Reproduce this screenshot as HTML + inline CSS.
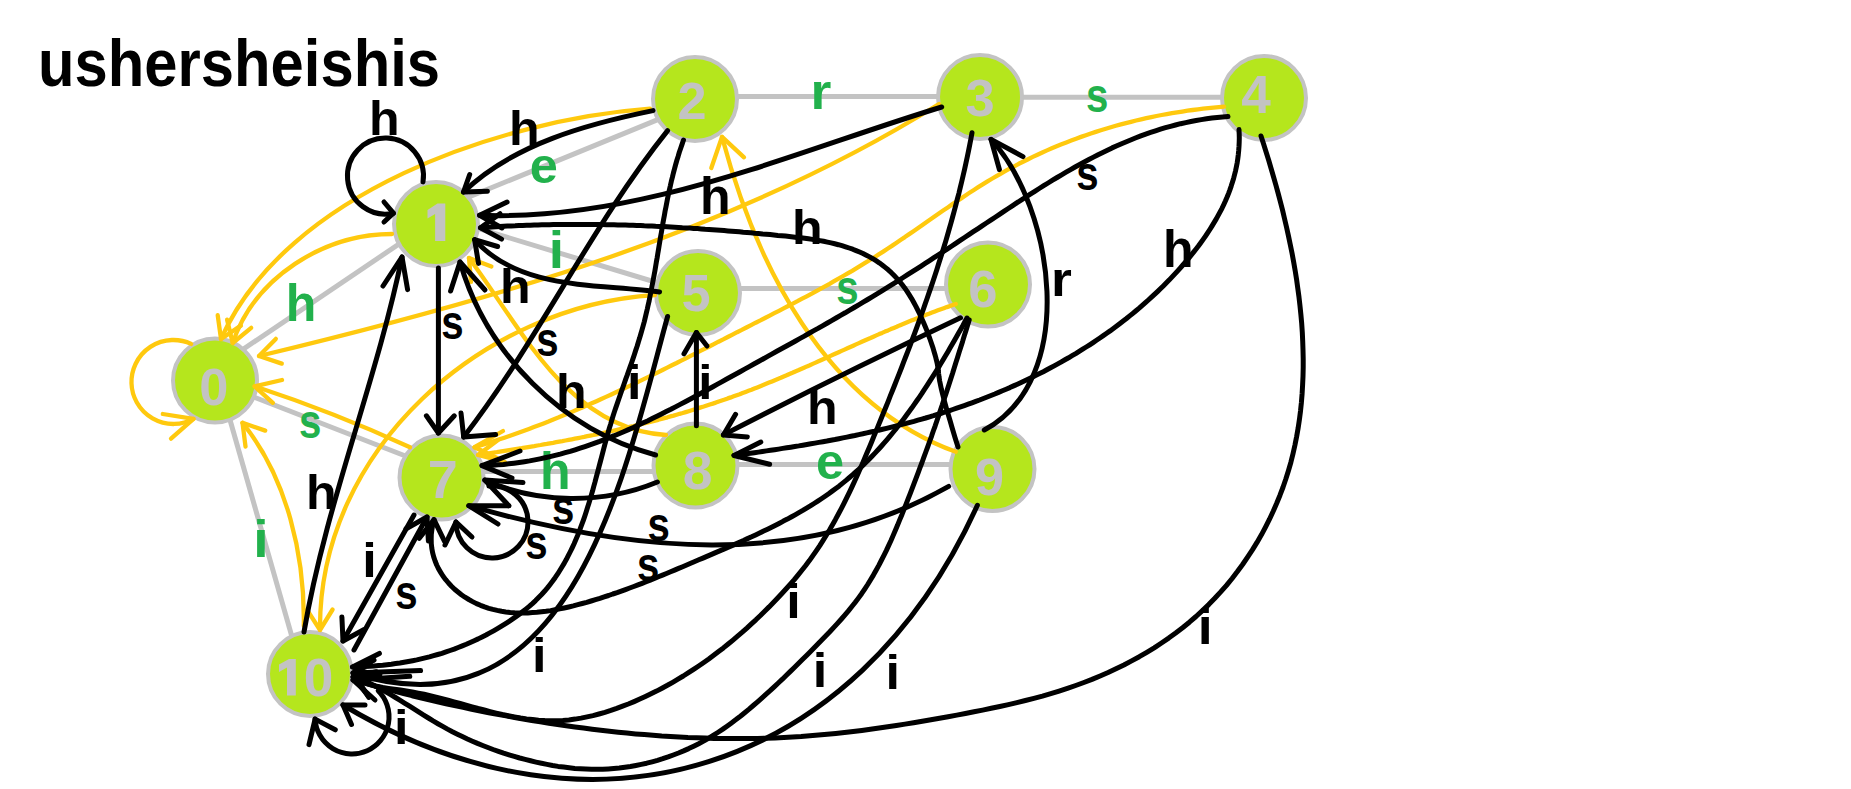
<!DOCTYPE html><html><head><meta charset="utf-8"><style>
html,body{margin:0;padding:0;background:#fff;width:1851px;height:789px;overflow:hidden}
svg{display:block}
text{font-family:"Liberation Sans",sans-serif;font-weight:bold}
</style></head><body><svg width="1851" height="789" viewBox="0 0 1851 789">
<text x="38.0" y="86.0" fill="#000000" font-size="66" text-anchor="start" textLength="402" lengthAdjust="spacingAndGlyphs">ushersheishis</text>
<line x1="215.0" y1="368.3" x2="436.0" y2="219.0" stroke="#c3c3c3" stroke-width="5"/>
<line x1="436.0" y1="210.4" x2="695.0" y2="104.4" stroke="#c3c3c3" stroke-width="5"/>
<line x1="695.0" y1="96.4" x2="980.0" y2="96.4" stroke="#c3c3c3" stroke-width="5"/>
<line x1="980.0" y1="97.2" x2="1264.0" y2="97.2" stroke="#c3c3c3" stroke-width="5"/>
<line x1="436.0" y1="215.7" x2="698.0" y2="295.0" stroke="#c3c3c3" stroke-width="5"/>
<line x1="698.0" y1="288.4" x2="988.0" y2="288.4" stroke="#c3c3c3" stroke-width="5"/>
<line x1="215.0" y1="382.0" x2="441.5" y2="470.0" stroke="#c3c3c3" stroke-width="5"/>
<line x1="441.5" y1="471.5" x2="695.5" y2="471.5" stroke="#c3c3c3" stroke-width="5"/>
<line x1="695.5" y1="464.4" x2="992.5" y2="464.4" stroke="#c3c3c3" stroke-width="5"/>
<line x1="218.6" y1="380.0" x2="302.6" y2="674.0" stroke="#c3c3c3" stroke-width="5"/>
<circle cx="215.0" cy="380.5" r="42" fill="#b5e61d" stroke="#c3c3c3" stroke-width="4"/>
<circle cx="436.0" cy="224.0" r="42" fill="#b5e61d" stroke="#c3c3c3" stroke-width="4"/>
<circle cx="695.0" cy="99.0" r="42" fill="#b5e61d" stroke="#c3c3c3" stroke-width="4"/>
<circle cx="980.0" cy="97.0" r="42" fill="#b5e61d" stroke="#c3c3c3" stroke-width="4"/>
<circle cx="1264.0" cy="98.0" r="42" fill="#b5e61d" stroke="#c3c3c3" stroke-width="4"/>
<circle cx="698.0" cy="293.0" r="42" fill="#b5e61d" stroke="#c3c3c3" stroke-width="4"/>
<circle cx="988.0" cy="284.5" r="42" fill="#b5e61d" stroke="#c3c3c3" stroke-width="4"/>
<circle cx="441.5" cy="477.5" r="42" fill="#b5e61d" stroke="#c3c3c3" stroke-width="4"/>
<circle cx="695.5" cy="465.5" r="42" fill="#b5e61d" stroke="#c3c3c3" stroke-width="4"/>
<circle cx="992.5" cy="469.0" r="42" fill="#b5e61d" stroke="#c3c3c3" stroke-width="4"/>
<circle cx="310.0" cy="674.0" r="42" fill="#b5e61d" stroke="#c3c3c3" stroke-width="4"/>
<path d="M435.1 241 L445.3 241 L445.3 203.6 L437.5 203.6 L427.5 210 L427.5 218.5 L435.1 214 Z" fill="#c3c3c3"/>
<text transform="translate(199.31 405.18) scale(0.5240 0.5240)" fill="#c3c3c3" font-size="100">0</text>
<text transform="translate(677.54 119.00) scale(0.5229 0.5229)" fill="#c3c3c3" font-size="100">2</text>
<text transform="translate(965.40 116.12) scale(0.5247 0.5247)" fill="#c3c3c3" font-size="100">3</text>
<text transform="translate(1241.24 113.00) scale(0.5305 0.5305)" fill="#c3c3c3" font-size="100">4</text>
<text transform="translate(681.53 310.78) scale(0.5229 0.5229)" fill="#c3c3c3" font-size="100">5</text>
<text transform="translate(968.37 306.97) scale(0.5254 0.5254)" fill="#c3c3c3" font-size="100">6</text>
<text transform="translate(427.79 497.50) scale(0.5392 0.5392)" fill="#c3c3c3" font-size="100">7</text>
<text transform="translate(682.64 489.26) scale(0.5353 0.5353)" fill="#c3c3c3" font-size="100">8</text>
<text transform="translate(975.12 494.98) scale(0.5226 0.5226)" fill="#c3c3c3" font-size="100">9</text>
<path d="M287 695.6 L295.8 695.6 L295.8 659.1 L289 659.1 L279 664.4 L279 672 L287 667.5 Z" fill="#c3c3c3"/>
<text transform="translate(303.82 696.17) scale(0.5325 0.5325)" fill="#c3c3c3" font-size="100">0</text>
<path d="M191.2 343.9 A42.0 42.0 0 1 0 193.5 418.9" fill="none" stroke="#ffc90e" stroke-width="4.3" stroke-linecap="round" stroke-linejoin="round"/>
<path d="M162.8 414.0 L193.5 418.9 L171.0 438.6" fill="none" stroke="#ffc90e" stroke-width="4.3" stroke-linecap="round" stroke-linejoin="round"/>
<path d="M392.0 234.0 C323.6 234.2 254.8 277.2 232.7 343.0" fill="none" stroke="#ffc90e" stroke-width="4.3" stroke-linecap="round" stroke-linejoin="round"/>
<path d="M251.2 327.8 L232.7 343.0 L227.1 319.7" fill="none" stroke="#ffc90e" stroke-width="4.3" stroke-linecap="round" stroke-linejoin="round"/>
<path d="M650.0 108.7 C500.3 119.9 286.3 192.5 221.0 339.0" fill="none" stroke="#ffc90e" stroke-width="4.3" stroke-linecap="round" stroke-linejoin="round"/>
<path d="M240.9 325.6 L221.0 339.0 L217.7 315.2" fill="none" stroke="#ffc90e" stroke-width="4.3" stroke-linecap="round" stroke-linejoin="round"/>
<path d="M939.0 104.0 C733.0 232.5 494.5 299.5 259.0 356.0" fill="none" stroke="#ffc90e" stroke-width="4.3" stroke-linecap="round" stroke-linejoin="round"/>
<path d="M281.8 363.6 L259.0 356.0 L275.8 338.9" fill="none" stroke="#ffc90e" stroke-width="4.3" stroke-linecap="round" stroke-linejoin="round"/>
<path d="M655.0 295.0 C482.0 305.9 318.5 449.7 320.0 630.0" fill="none" stroke="#ffc90e" stroke-width="4.3" stroke-linecap="round" stroke-linejoin="round"/>
<path d="M332.6 609.5 L320.0 630.0 L307.1 609.8" fill="none" stroke="#ffc90e" stroke-width="4.3" stroke-linecap="round" stroke-linejoin="round"/>
<path d="M410.0 447.3 C359.1 423.9 307.3 403.6 254.6 386.3" fill="none" stroke="#ffc90e" stroke-width="4.3" stroke-linecap="round" stroke-linejoin="round"/>
<path d="M282.0 380.0 L254.6 386.3 L272.8 402.8" fill="none" stroke="#ffc90e" stroke-width="4.3" stroke-linecap="round" stroke-linejoin="round"/>
<path d="M303.8 626.0 C305.0 556.5 287.4 478.1 242.5 422.8" fill="none" stroke="#ffc90e" stroke-width="4.3" stroke-linecap="round" stroke-linejoin="round"/>
<path d="M245.5 446.6 L242.5 422.8 L265.2 430.6" fill="none" stroke="#ffc90e" stroke-width="4.3" stroke-linecap="round" stroke-linejoin="round"/>
<path d="M1224.0 106.7 L1218.8 107.1 L1213.5 107.6 L1208.3 108.1 L1203.1 108.7 L1197.9 109.3 L1192.7 110.0 L1187.5 110.7 L1182.3 111.5 L1177.1 112.3 L1172.0 113.1 L1166.8 114.1 L1161.7 115.0 L1156.5 116.0 L1151.4 117.1 L1146.3 118.2 L1141.2 119.3 L1136.1 120.5 L1131.0 121.8 L1125.9 123.1 L1120.9 124.4 L1115.8 125.8 L1110.8 127.3 L1105.8 128.8 L1100.8 130.3 L1095.8 131.9 L1090.8 133.5 L1085.9 135.2 L1081.0 136.9 L1076.1 138.7 L1071.2 140.5 L1066.3 142.4 L1061.5 144.3 L1056.6 146.3 L1051.8 148.3 L1047.0 150.4 L1042.3 152.5 L1037.5 154.7 L1032.8 156.9 L1028.1 159.2 L1023.5 161.5 L1018.8 163.8 L1014.2 166.3 L1009.6 168.7 L1005.1 171.2 L1000.5 173.8 L996.0 176.4 L991.5 179.0 L987.1 181.7 L982.7 184.4 L978.2 187.2 L973.9 190.0 L969.5 192.8 L965.1 195.7 L960.8 198.6 L956.4 201.5 L952.1 204.4 L947.8 207.4 L943.5 210.3 L939.2 213.3 L934.9 216.3 L930.6 219.2 L926.3 222.2 L922.1 225.2 L917.8 228.2 L913.5 231.2 L909.2 234.1 L904.9 237.1 L900.5 240.0 L896.2 243.0 L891.9 245.9 L887.5 248.7 L883.2 251.6 L878.8 254.4 L874.4 257.2 L870.0 260.0 L865.5 262.7 L861.1 265.4 L856.6 268.1 L852.2 270.8 L847.7 273.4 L843.1 276.0 L838.6 278.6 L834.1 281.2 L829.6 283.8 L825.0 286.3 L820.4 288.8 L815.9 291.3 L811.3 293.8 L806.7 296.3 L802.1 298.7 L797.5 301.2 L792.8 303.6 L788.2 306.0 L783.6 308.4 L779.0 310.8 L774.3 313.2 L769.7 315.6 L765.0 318.0 L760.4 320.4 L755.7 322.7 L751.1 325.1 L746.4 327.5 L741.8 329.9 L737.1 332.2 L732.5 334.6 L727.8 337.0 L723.2 339.4 L718.5 341.7 L713.9 344.1 L709.2 346.5 L704.5 348.9 L699.9 351.2 L695.2 353.6 L690.6 355.9 L685.9 358.3 L681.2 360.6 L676.6 363.0 L671.9 365.3 L667.2 367.6 L662.5 370.0 L657.9 372.3 L653.2 374.6 L648.5 376.9 L643.8 379.1 L639.1 381.4 L634.4 383.7 L629.7 385.9 L624.9 388.1 L620.2 390.3 L615.5 392.5 L610.8 394.7 L606.0 396.9 L601.3 399.0 L596.5 401.2 L591.7 403.3 L587.0 405.4 L582.2 407.5 L577.4 409.5 L572.6 411.6 L567.8 413.6 L563.0 415.6 L558.2 417.6 L553.3 419.5 L548.5 421.5 L543.6 423.4 L538.8 425.2 L533.9 427.1 L529.0 428.9 L524.1 430.7 L519.2 432.5 L514.3 434.3 L509.4 436.0 L504.4 437.7 L499.5 439.3 L494.5 441.0 L489.5 442.6 L484.5 444.2 L479.5 445.7 L474.5 447.2" fill="none" stroke="#ffc90e" stroke-width="4.3" stroke-linecap="round" stroke-linejoin="round"/>
<path d="M503.0 431.0 L474.5 447.2 L497.0 458.0" fill="none" stroke="#ffc90e" stroke-width="4.3" stroke-linecap="round" stroke-linejoin="round"/>
<path d="M955.8 304.0 L952.8 305.0 L949.8 306.1 L946.8 307.1 L943.8 308.2 L940.9 309.2 L937.9 310.3 L934.9 311.4 L932.0 312.5 L929.0 313.7 L926.0 314.8 L923.1 315.9 L920.1 317.1 L917.2 318.2 L914.3 319.4 L911.3 320.6 L908.4 321.8 L905.5 323.0 L902.5 324.2 L899.6 325.4 L896.7 326.7 L893.8 327.9 L890.9 329.1 L888.0 330.4 L885.0 331.6 L882.1 332.9 L879.2 334.1 L876.3 335.4 L873.4 336.7 L870.5 338.0 L867.6 339.2 L864.7 340.5 L861.8 341.8 L858.9 343.1 L856.0 344.4 L853.2 345.7 L850.3 347.0 L847.4 348.3 L844.5 349.6 L841.6 350.9 L838.7 352.2 L835.8 353.5 L832.9 354.8 L830.0 356.1 L827.1 357.4 L824.2 358.7 L821.4 360.0 L818.5 361.3 L815.6 362.6 L812.7 363.9 L809.8 365.2 L806.9 366.4 L804.0 367.7 L801.1 369.0 L798.2 370.3 L795.3 371.5 L792.4 372.8 L789.5 374.0 L786.6 375.3 L783.7 376.5 L780.8 377.8 L777.8 379.0 L774.9 380.2 L772.0 381.4 L769.1 382.6 L766.1 383.8 L763.2 385.0 L760.3 386.2 L757.3 387.4 L754.4 388.5 L751.5 389.7 L748.5 390.8 L745.6 391.9 L742.6 393.0 L739.7 394.2 L736.7 395.2 L733.7 396.3 L730.8 397.4 L727.8 398.4 L724.8 399.5 L721.8 400.5 L718.8 401.5 L715.8 402.6 L712.8 403.6 L709.8 404.5 L706.8 405.5 L703.8 406.5 L700.8 407.4 L697.8 408.4 L694.8 409.3 L691.8 410.2 L688.7 411.2 L685.7 412.1 L682.7 413.0 L679.6 413.8 L676.6 414.7 L673.6 415.6 L670.5 416.4 L667.5 417.3 L664.4 418.1 L661.4 418.9 L658.3 419.8 L655.2 420.6 L652.2 421.4 L649.1 422.1 L646.0 422.9 L643.0 423.7 L639.9 424.5 L636.8 425.2 L633.7 426.0 L630.7 426.7 L627.6 427.4 L624.5 428.2 L621.4 428.9 L618.3 429.6 L615.2 430.3 L612.1 431.0 L609.0 431.6 L605.9 432.3 L602.8 433.0 L599.7 433.7 L596.6 434.3 L593.5 435.0 L590.4 435.6 L587.3 436.2 L584.2 436.9 L581.1 437.5 L578.0 438.1 L574.9 438.7 L571.8 439.3 L568.7 439.9 L565.5 440.5 L562.4 441.1 L559.3 441.6 L556.2 442.2 L553.1 442.8 L549.9 443.3 L546.8 443.9 L543.7 444.4 L540.6 445.0 L537.4 445.5 L534.3 446.1 L531.2 446.6 L528.1 447.1 L524.9 447.6 L521.8 448.2 L518.7 448.7 L515.5 449.2 L512.4 449.7 L509.3 450.2 L506.2 450.7 L503.0 451.2 L499.9 451.7 L496.8 452.2 L493.6 452.6 L490.5 453.1 L487.4 453.6 L484.3 454.1 L481.1 454.5 L478.0 455.0" fill="none" stroke="#ffc90e" stroke-width="4.3" stroke-linecap="round" stroke-linejoin="round"/>
<path d="M498.0 440.0 L478.0 455.0 L505.0 462.0" fill="none" stroke="#ffc90e" stroke-width="4.3" stroke-linecap="round" stroke-linejoin="round"/>
<path d="M955.8 451.8 C823.9 403.8 755.6 262.5 722.0 136.9" fill="none" stroke="#ffc90e" stroke-width="4.3" stroke-linecap="round" stroke-linejoin="round"/>
<path d="M711.3 168.0 L722.0 136.9 L744.0 157.3" fill="none" stroke="#ffc90e" stroke-width="4.3" stroke-linecap="round" stroke-linejoin="round"/>
<path d="M666.0 435.0 C568.1 429.4 520.9 327.2 469.0 258.0" fill="none" stroke="#ffc90e" stroke-width="4.3" stroke-linecap="round" stroke-linejoin="round"/>
<path d="M471.0 281.9 L469.0 258.0 L491.4 266.6" fill="none" stroke="#ffc90e" stroke-width="4.3" stroke-linecap="round" stroke-linejoin="round"/>
<text transform="translate(368.89 134.70) scale(0.5010 0.4759)" fill="#000000" font-size="100">h</text>
<text transform="translate(508.89 145.00) scale(0.5010 0.4759)" fill="#000000" font-size="100">h</text>
<text transform="translate(699.99 213.70) scale(0.5010 0.5159)" fill="#000000" font-size="100">h</text>
<text transform="translate(791.89 243.70) scale(0.5010 0.4759)" fill="#000000" font-size="100">h</text>
<text transform="translate(499.99 302.80) scale(0.5010 0.4759)" fill="#000000" font-size="100">h</text>
<text transform="translate(441.14 338.82) scale(0.4021 0.4845)" fill="#000000" font-size="100">s</text>
<text transform="translate(536.14 355.92) scale(0.4021 0.4845)" fill="#000000" font-size="100">s</text>
<text transform="translate(555.99 407.80) scale(0.5010 0.4759)" fill="#000000" font-size="100">h</text>
<text transform="translate(627.08 399.00) scale(0.5214 0.4828)" fill="#000000" font-size="100">i</text>
<text transform="translate(698.14 398.70) scale(0.5095 0.4717)" fill="#000000" font-size="100">i</text>
<text transform="translate(806.89 423.70) scale(0.5010 0.4759)" fill="#000000" font-size="100">h</text>
<text transform="translate(1162.99 266.90) scale(0.5010 0.5200)" fill="#000000" font-size="100">h</text>
<text transform="translate(1076.24 189.52) scale(0.4021 0.4845)" fill="#000000" font-size="100">s</text>
<text transform="translate(1050.91 295.80) scale(0.5357 0.4750)" fill="#000000" font-size="100">r</text>
<text transform="translate(305.99 508.70) scale(0.5010 0.4759)" fill="#000000" font-size="100">h</text>
<text transform="translate(362.28 577.00) scale(0.5214 0.4828)" fill="#000000" font-size="100">i</text>
<text transform="translate(395.34 608.82) scale(0.4021 0.4845)" fill="#000000" font-size="100">s</text>
<text transform="translate(551.94 524.02) scale(0.4021 0.4845)" fill="#000000" font-size="100">s</text>
<text transform="translate(525.24 559.02) scale(0.4021 0.4845)" fill="#000000" font-size="100">s</text>
<text transform="translate(647.44 541.02) scale(0.4021 0.4845)" fill="#000000" font-size="100">s</text>
<text transform="translate(636.94 581.22) scale(0.4021 0.4845)" fill="#000000" font-size="100">s</text>
<text transform="translate(531.98 672.00) scale(0.5214 0.4828)" fill="#000000" font-size="100">i</text>
<text transform="translate(786.18 618.00) scale(0.5214 0.4828)" fill="#000000" font-size="100">i</text>
<text transform="translate(812.78 686.80) scale(0.5214 0.4828)" fill="#000000" font-size="100">i</text>
<text transform="translate(885.48 688.50) scale(0.5214 0.4828)" fill="#000000" font-size="100">i</text>
<text transform="translate(1197.87 643.70) scale(0.5363 0.4966)" fill="#000000" font-size="100">i</text>
<text transform="translate(393.98 744.00) scale(0.5214 0.4828)" fill="#000000" font-size="100">i</text>
<text transform="translate(285.79 320.60) scale(0.5010 0.5159)" fill="#22b14c" font-size="100">h</text>
<text transform="translate(529.73 183.21) scale(0.5052 0.4927)" fill="#22b14c" font-size="100">e</text>
<text transform="translate(810.61 109.00) scale(0.5357 0.5009)" fill="#22b14c" font-size="100">r</text>
<text transform="translate(1085.94 111.52) scale(0.4021 0.4845)" fill="#22b14c" font-size="100">s</text>
<text transform="translate(548.87 268.40) scale(0.5512 0.5103)" fill="#22b14c" font-size="100">i</text>
<text transform="translate(836.14 304.12) scale(0.4021 0.4845)" fill="#22b14c" font-size="100">s</text>
<text transform="translate(298.94 437.92) scale(0.4021 0.4845)" fill="#22b14c" font-size="100">s</text>
<text transform="translate(539.89 488.70) scale(0.5010 0.5200)" fill="#22b14c" font-size="100">h</text>
<text transform="translate(816.03 479.11) scale(0.5052 0.4927)" fill="#22b14c" font-size="100">e</text>
<text transform="translate(253.15 556.90) scale(0.5527 0.5117)" fill="#22b14c" font-size="100">i</text>
<path d="M423.0 181.9 A38.0 38.0 0 1 0 393.4 213.2" fill="none" stroke="#000000" stroke-width="5" stroke-linecap="round" stroke-linejoin="round"/>
<path d="M384.0 202.0 L393.4 213.2 L384.0 222.0" fill="none" stroke="#000000" stroke-width="5" stroke-linecap="round" stroke-linejoin="round"/>
<path d="M438.4 268.0 L438.4 433.0" fill="none" stroke="#000000" stroke-width="5" stroke-linecap="round" stroke-linejoin="round"/>
<path d="M426.4 415.8 L438.4 433.0 L454.3 415.8" fill="none" stroke="#000000" stroke-width="5" stroke-linecap="round" stroke-linejoin="round"/>
<path d="M653.0 110.6 C587.1 124.0 513.6 144.0 463.5 192.0" fill="none" stroke="#000000" stroke-width="5" stroke-linecap="round" stroke-linejoin="round"/>
<path d="M469.7 174.5 L463.5 192.0 L487.4 191.2" fill="none" stroke="#000000" stroke-width="5" stroke-linecap="round" stroke-linejoin="round"/>
<path d="M941.7 107.0 C791.9 152.6 640.0 221.6 479.6 215.3" fill="none" stroke="#000000" stroke-width="5" stroke-linecap="round" stroke-linejoin="round"/>
<path d="M507.1 202.0 L479.6 215.3 L502.0 228.0" fill="none" stroke="#000000" stroke-width="5" stroke-linecap="round" stroke-linejoin="round"/>
<path d="M958.0 447.0 L955.0 437.4 L952.4 428.7 L950.1 420.8 L948.0 413.8 L946.2 407.6 L944.7 402.1 L943.4 397.2 L942.3 392.9 L941.4 389.2 L940.7 385.9 L940.1 383.1 L939.6 380.7 L939.3 378.5 L939.0 376.7 L938.8 375.0 L938.6 373.5 L938.5 372.1 L938.3 370.7 L938.2 369.3 L938.0 367.9 L937.7 366.3 L937.4 364.5 L937.0 362.5 L936.4 360.2 L935.8 357.6 L935.0 354.8 L934.1 351.8 L933.2 348.6 L932.1 345.2 L930.9 341.7 L929.6 338.0 L928.2 334.3 L926.8 330.4 L925.2 326.5 L923.5 322.5 L921.7 318.4 L919.9 314.4 L917.9 310.4 L915.9 306.4 L913.8 302.5 L911.6 298.6 L909.3 294.9 L906.9 291.2 L904.5 287.7 L901.9 284.3 L899.3 281.1 L896.6 278.1 L893.9 275.2 L891.1 272.4 L888.2 269.8 L885.2 267.4 L882.2 265.0 L879.2 262.8 L876.0 260.7 L872.8 258.7 L869.6 256.9 L866.3 255.2 L863.0 253.5 L859.6 252.0 L856.1 250.6 L852.7 249.2 L849.2 248.0 L845.6 246.8 L842.0 245.7 L838.4 244.7 L834.7 243.8 L831.1 242.9 L827.4 242.1 L823.6 241.3 L819.9 240.6 L816.1 240.0 L812.3 239.4 L808.5 238.8 L804.7 238.3 L800.8 237.8 L797.0 237.4 L793.2 236.9 L789.3 236.5 L785.5 236.1 L781.6 235.7 L777.8 235.4 L773.9 235.0 L770.1 234.6 L766.2 234.2 L762.4 233.9 L758.5 233.5 L754.7 233.2 L750.9 232.8 L747.1 232.5 L743.2 232.2 L739.4 231.8 L735.6 231.5 L731.8 231.2 L727.9 230.9 L724.1 230.6 L720.3 230.3 L716.5 230.0 L712.7 229.7 L708.9 229.4 L705.1 229.2 L701.3 228.9 L697.5 228.6 L693.7 228.4 L689.9 228.1 L686.1 227.9 L682.3 227.7 L678.5 227.4 L674.7 227.2 L670.9 227.0 L667.1 226.8 L663.3 226.6 L659.5 226.4 L655.7 226.3 L651.9 226.1 L648.1 225.9 L644.3 225.8 L640.6 225.6 L636.8 225.5 L633.0 225.3 L629.2 225.2 L625.4 225.1 L621.6 225.0 L617.8 224.9 L614.0 224.8 L610.2 224.7 L606.4 224.7 L602.6 224.6 L598.9 224.5 L595.1 224.5 L591.3 224.5 L587.5 224.4 L583.7 224.4 L579.9 224.4 L576.1 224.4 L572.3 224.4 L568.5 224.4 L564.7 224.5 L560.9 224.5 L557.1 224.5 L553.3 224.6 L549.4 224.7 L545.6 224.8 L541.8 224.8 L538.0 224.9 L534.2 225.0 L530.4 225.2 L526.6 225.3 L522.7 225.4 L518.9 225.6 L515.1 225.8 L511.2 225.9 L507.4 226.1 L503.6 226.3 L499.7 226.5 L495.9 226.7 L492.1 226.9 L488.2 227.2 L484.4 227.4 L480.5 227.7" fill="none" stroke="#000000" stroke-width="5" stroke-linecap="round" stroke-linejoin="round"/>
<path d="M501.6 239.1 L480.5 227.7 L500.0 213.7" fill="none" stroke="#000000" stroke-width="5" stroke-linecap="round" stroke-linejoin="round"/>
<path d="M659.6 292.0 C599.6 283.2 520.1 291.3 474.6 239.7" fill="none" stroke="#000000" stroke-width="5" stroke-linecap="round" stroke-linejoin="round"/>
<path d="M478.5 263.4 L474.6 239.7 L497.6 246.5" fill="none" stroke="#000000" stroke-width="5" stroke-linecap="round" stroke-linejoin="round"/>
<path d="M655.6 455.0 C562.2 430.3 486.4 353.6 460.0 262.0" fill="none" stroke="#000000" stroke-width="5" stroke-linecap="round" stroke-linejoin="round"/>
<path d="M450.6 291.0 L460.0 262.0 L485.0 290.0" fill="none" stroke="#000000" stroke-width="5" stroke-linecap="round" stroke-linejoin="round"/>
<path d="M304.0 632.0 C325.8 504.3 375.9 383.2 402.0 257.0" fill="none" stroke="#000000" stroke-width="5" stroke-linecap="round" stroke-linejoin="round"/>
<path d="M383.0 286.0 L402.0 257.0 L407.6 289.6" fill="none" stroke="#000000" stroke-width="5" stroke-linecap="round" stroke-linejoin="round"/>
<path d="M667.6 130.6 C590.8 226.5 539.2 339.3 463.7 437.0" fill="none" stroke="#000000" stroke-width="5" stroke-linecap="round" stroke-linejoin="round"/>
<path d="M461.0 413.0 L463.7 437.0 L495.6 434.4" fill="none" stroke="#000000" stroke-width="5" stroke-linecap="round" stroke-linejoin="round"/>
<path d="M683.5 140.0 L682.1 144.1 L680.7 148.2 L679.3 152.3 L678.1 156.4 L676.8 160.5 L675.6 164.7 L674.5 168.8 L673.4 173.0 L672.4 177.2 L671.3 181.4 L670.4 185.6 L669.4 189.8 L668.5 194.0 L667.6 198.3 L666.8 202.5 L666.0 206.7 L665.1 211.0 L664.4 215.3 L663.6 219.5 L662.8 223.8 L662.1 228.1 L661.4 232.3 L660.6 236.6 L659.9 240.9 L659.2 245.2 L658.5 249.5 L657.8 253.7 L657.1 258.0 L656.3 262.3 L655.6 266.6 L654.9 270.8 L654.1 275.1 L653.3 279.4 L652.5 283.6 L651.7 287.9 L650.9 292.1 L650.0 296.3 L649.2 300.6 L648.2 304.8 L647.3 309.0 L646.3 313.2 L645.3 317.4 L644.3 321.6 L643.2 325.7 L642.0 329.9 L640.8 334.0 L639.6 338.1 L638.3 342.2 L637.1 346.3 L635.7 350.4 L634.4 354.5 L633.0 358.6 L631.6 362.7 L630.2 366.7 L628.7 370.8 L627.3 374.9 L625.8 378.9 L624.4 383.0 L623.0 387.0 L621.5 391.1 L620.1 395.2 L618.7 399.3 L617.3 403.3 L615.9 407.4 L614.5 411.5 L613.2 415.6 L611.9 419.8 L610.7 423.9 L609.4 428.0 L608.2 432.2 L607.1 436.4 L605.9 440.5 L604.8 444.7 L603.7 448.9 L602.6 453.1 L601.5 457.3 L600.4 461.5 L599.3 465.7 L598.2 469.9 L597.1 474.0 L596.0 478.2 L594.9 482.4 L593.7 486.6 L592.6 490.8 L591.4 494.9 L590.2 499.1 L588.9 503.2 L587.6 507.3 L586.3 511.4 L585.0 515.5 L583.6 519.6 L582.1 523.7 L580.6 527.7 L579.1 531.8 L577.5 535.8 L575.8 539.7 L574.1 543.7 L572.3 547.6 L570.4 551.5 L568.4 555.4 L566.4 559.3 L564.3 563.1 L562.1 566.8 L559.8 570.5 L557.5 574.2 L555.1 577.7 L552.5 581.3 L549.9 584.7 L547.2 588.1 L544.5 591.3 L541.6 594.5 L538.6 597.6 L535.6 600.6 L532.4 603.6 L529.2 606.4 L525.9 609.1 L522.5 611.8 L519.1 614.4 L515.6 616.9 L512.0 619.4 L508.4 621.8 L504.8 624.1 L501.1 626.4 L497.4 628.6 L493.6 630.8 L489.8 632.9 L486.0 635.0 L482.1 636.9 L478.2 638.9 L474.2 640.7 L470.3 642.5 L466.3 644.3 L462.3 645.9 L458.2 647.5 L454.2 649.1 L450.1 650.5 L446.0 651.9 L441.9 653.3 L437.7 654.5 L433.6 655.7 L429.4 656.9 L425.2 657.9 L421.0 658.9 L416.8 659.9 L412.6 660.7 L408.4 661.5 L404.1 662.3 L399.9 663.0 L395.6 663.6 L391.3 664.2 L387.0 664.7 L382.7 665.2 L378.4 665.6 L374.1 666.0 L369.8 666.3 L365.5 666.5 L361.2 666.7 L356.8 666.9 L352.5 667.0" fill="none" stroke="#000000" stroke-width="5" stroke-linecap="round" stroke-linejoin="round"/>
<path d="M379.4 653.4 L352.5 667.0 L376.0 676.0" fill="none" stroke="#000000" stroke-width="5" stroke-linecap="round" stroke-linejoin="round"/>
<path d="M667.6 316.5 C626.5 464.5 573.8 744.7 353.0 673.0" fill="none" stroke="#000000" stroke-width="5" stroke-linecap="round" stroke-linejoin="round"/>
<path d="M374.0 660.0 L353.0 673.0 L420.6 670.6" fill="none" stroke="#000000" stroke-width="5" stroke-linecap="round" stroke-linejoin="round"/>
<path d="M696.4 425.7 L696.4 332.5" fill="none" stroke="#000000" stroke-width="5" stroke-linecap="round" stroke-linejoin="round"/>
<path d="M684.0 353.8 L696.4 332.5 L707.0 346.0" fill="none" stroke="#000000" stroke-width="5" stroke-linecap="round" stroke-linejoin="round"/>
<path d="M972.0 132.8 L970.9 138.9 L969.7 145.0 L968.5 151.1 L967.2 157.2 L965.9 163.2 L964.6 169.3 L963.2 175.3 L961.8 181.3 L960.3 187.3 L958.9 193.3 L957.3 199.2 L955.8 205.2 L954.2 211.1 L952.6 217.0 L951.0 222.9 L949.3 228.8 L947.6 234.7 L945.9 240.6 L944.1 246.4 L942.3 252.3 L940.5 258.1 L938.6 263.9 L936.8 269.7 L934.9 275.5 L933.0 281.3 L931.0 287.1 L929.0 292.9 L927.0 298.7 L925.0 304.4 L923.0 310.2 L920.9 316.0 L918.9 321.7 L916.8 327.4 L914.7 333.2 L912.5 338.9 L910.4 344.6 L908.2 350.3 L906.0 356.0 L903.8 361.7 L901.6 367.5 L899.4 373.2 L897.1 378.9 L894.9 384.5 L892.6 390.2 L890.3 395.9 L888.1 401.6 L885.8 407.3 L883.4 413.0 L881.1 418.7 L878.8 424.4 L876.5 430.1 L874.1 435.8 L871.8 441.5 L869.4 447.2 L867.0 452.8 L864.6 458.5 L862.2 464.2 L859.7 469.8 L857.2 475.4 L854.7 481.0 L852.1 486.6 L849.5 492.1 L846.8 497.7 L844.1 503.2 L841.3 508.6 L838.4 514.0 L835.5 519.4 L832.5 524.7 L829.5 530.0 L826.3 535.3 L823.1 540.4 L819.8 545.6 L816.4 550.6 L812.9 555.7 L809.4 560.6 L805.7 565.5 L801.9 570.3 L798.0 575.1 L794.1 579.8 L790.1 584.4 L786.0 589.0 L781.9 593.5 L777.7 598.0 L773.4 602.5 L769.1 606.9 L764.7 611.2 L760.4 615.5 L755.9 619.8 L751.4 623.9 L746.9 628.1 L742.3 632.2 L737.6 636.2 L733.0 640.1 L728.2 644.0 L723.4 647.9 L718.6 651.6 L713.7 655.3 L708.8 659.0 L703.8 662.5 L698.7 666.0 L693.6 669.4 L688.5 672.7 L683.3 676.0 L678.0 679.2 L672.7 682.3 L667.4 685.3 L662.0 688.2 L656.5 691.1 L651.0 693.8 L645.4 696.5 L639.8 699.1 L634.1 701.6 L628.3 704.0 L622.6 706.2 L616.7 708.4 L610.9 710.4 L604.9 712.3 L599.0 714.0 L593.0 715.6 L587.0 716.9 L581.0 718.1 L575.0 719.1 L568.9 719.9 L562.9 720.4 L556.8 720.7 L550.8 720.7 L544.7 720.6 L538.6 720.2 L532.6 719.6 L526.5 718.9 L520.5 718.0 L514.4 716.9 L508.3 715.7 L502.3 714.5 L496.2 713.1 L490.2 711.6 L484.2 710.0 L478.1 708.5 L472.1 706.8 L466.1 705.2 L460.1 703.5 L454.0 701.9 L448.0 700.2 L442.1 698.7 L436.1 697.1 L430.1 695.7 L424.1 694.3 L418.2 693.1 L412.3 691.9 L406.3 690.9 L400.4 690.0 L394.5 689.2 L388.6 688.4 L382.7 687.5 L376.8 686.3 L370.9 684.8 L364.9 682.8 L359.0 680.2 L353.0 677.0" fill="none" stroke="#000000" stroke-width="5" stroke-linecap="round" stroke-linejoin="round"/>
<path d="M368.0 695.8 L353.0 677.0 L376.4 671.8" fill="none" stroke="#000000" stroke-width="5" stroke-linecap="round" stroke-linejoin="round"/>
<path d="M1261.0 136.0 L1263.6 144.0 L1266.1 152.1 L1268.7 160.3 L1271.1 168.5 L1273.5 176.8 L1275.9 185.1 L1278.2 193.5 L1280.4 201.9 L1282.6 210.4 L1284.6 219.0 L1286.6 227.5 L1288.5 236.1 L1290.3 244.8 L1292.1 253.5 L1293.7 262.2 L1295.2 270.9 L1296.6 279.6 L1297.8 288.4 L1299.0 297.2 L1300.0 306.0 L1300.9 314.8 L1301.7 323.6 L1302.3 332.4 L1302.7 341.2 L1303.0 350.0 L1303.2 358.8 L1303.2 367.5 L1303.0 376.3 L1302.6 385.0 L1302.1 393.7 L1301.4 402.4 L1300.5 411.1 L1299.4 419.7 L1298.1 428.3 L1296.6 436.8 L1294.9 445.3 L1293.0 453.7 L1290.9 462.2 L1288.5 470.5 L1285.9 478.8 L1283.1 487.0 L1280.0 495.2 L1276.7 503.3 L1273.2 511.3 L1269.5 519.2 L1265.5 527.1 L1261.4 534.8 L1257.0 542.4 L1252.4 549.9 L1247.6 557.2 L1242.6 564.5 L1237.4 571.6 L1232.1 578.5 L1226.5 585.3 L1220.7 591.9 L1214.8 598.3 L1208.7 604.6 L1202.4 610.6 L1196.0 616.5 L1189.4 622.2 L1182.6 627.7 L1175.7 633.0 L1168.7 638.1 L1161.5 643.0 L1154.2 647.8 L1146.8 652.3 L1139.3 656.7 L1131.6 660.9 L1123.9 665.0 L1116.0 668.8 L1108.1 672.5 L1100.1 676.0 L1092.0 679.4 L1083.9 682.5 L1075.7 685.5 L1067.4 688.4 L1059.1 691.1 L1050.8 693.6 L1042.4 696.1 L1033.9 698.4 L1025.4 700.5 L1016.9 702.6 L1008.4 704.6 L999.8 706.5 L991.2 708.3 L982.6 710.1 L974.0 711.8 L965.4 713.5 L956.8 715.1 L948.1 716.7 L939.5 718.2 L930.9 719.7 L922.3 721.2 L913.6 722.7 L905.0 724.1 L896.4 725.5 L887.7 726.8 L879.1 728.0 L870.4 729.2 L861.8 730.4 L853.2 731.5 L844.5 732.5 L835.8 733.4 L827.2 734.3 L818.5 735.1 L809.8 735.8 L801.1 736.5 L792.5 737.0 L783.8 737.5 L775.1 737.9 L766.3 738.2 L757.6 738.4 L748.9 738.6 L740.2 738.6 L731.5 738.6 L722.8 738.5 L714.0 738.4 L705.3 738.1 L696.6 737.8 L687.9 737.5 L679.2 737.0 L670.4 736.5 L661.7 736.0 L653.0 735.3 L644.3 734.6 L635.6 733.9 L626.9 733.1 L618.2 732.2 L609.5 731.3 L600.8 730.3 L592.2 729.2 L583.5 728.1 L574.9 727.0 L566.2 725.8 L557.6 724.5 L548.9 723.2 L540.3 721.9 L531.7 720.5 L523.1 719.0 L514.5 717.5 L505.9 715.9 L497.3 714.3 L488.7 712.7 L480.2 711.0 L471.6 709.2 L463.1 707.4 L454.5 705.6 L446.0 703.7 L437.5 701.7 L429.0 699.8 L420.5 697.7 L412.0 695.7 L403.6 693.5 L395.1 691.4 L386.7 689.2 L378.2 687.0 L369.8 684.7 L361.4 682.4 L353.0 680.0" fill="none" stroke="#000000" stroke-width="5" stroke-linecap="round" stroke-linejoin="round"/>
<path d="M409.8 676.3 L353.0 680.0 L375.0 700.0" fill="none" stroke="#000000" stroke-width="5" stroke-linecap="round" stroke-linejoin="round"/>
<path d="M969.2 320.0 L967.5 325.4 L965.9 330.7 L964.2 336.0 L962.6 341.4 L960.9 346.7 L959.2 352.0 L957.6 357.3 L955.9 362.6 L954.2 367.9 L952.6 373.2 L950.9 378.4 L949.2 383.7 L947.5 389.0 L945.8 394.3 L944.0 399.5 L942.3 404.8 L940.5 410.0 L938.8 415.3 L937.0 420.5 L935.2 425.8 L933.3 431.0 L931.5 436.3 L929.6 441.5 L927.7 446.8 L925.8 452.0 L923.9 457.2 L922.0 462.5 L920.0 467.7 L918.1 472.9 L916.1 478.2 L914.1 483.4 L912.1 488.6 L910.1 493.8 L908.0 499.1 L906.0 504.3 L903.9 509.5 L901.9 514.7 L899.7 519.9 L897.6 525.1 L895.4 530.2 L893.2 535.4 L891.0 540.5 L888.6 545.6 L886.3 550.6 L883.8 555.6 L881.3 560.5 L878.8 565.4 L876.1 570.3 L873.4 575.1 L870.6 579.8 L867.7 584.5 L864.7 589.1 L861.6 593.7 L858.4 598.1 L855.1 602.5 L851.7 606.8 L848.2 611.1 L844.6 615.3 L841.0 619.5 L837.3 623.6 L833.6 627.7 L829.8 631.8 L825.9 635.8 L822.0 639.8 L818.1 643.8 L814.2 647.8 L810.3 651.7 L806.3 655.7 L802.4 659.6 L798.4 663.6 L794.4 667.5 L790.4 671.4 L786.4 675.3 L782.4 679.2 L778.3 683.0 L774.2 686.9 L770.1 690.7 L765.9 694.4 L761.8 698.1 L757.6 701.8 L753.3 705.5 L749.1 709.1 L744.7 712.7 L740.4 716.2 L736.0 719.6 L731.5 722.9 L727.0 726.2 L722.5 729.4 L717.8 732.5 L713.2 735.4 L708.4 738.3 L703.6 741.1 L698.7 743.7 L693.7 746.2 L688.7 748.6 L683.6 750.9 L678.5 753.0 L673.3 755.0 L668.1 756.9 L662.8 758.7 L657.5 760.3 L652.1 761.8 L646.7 763.2 L641.3 764.4 L635.9 765.5 L630.4 766.5 L624.9 767.3 L619.3 768.0 L613.8 768.5 L608.2 768.9 L602.7 769.2 L597.1 769.3 L591.5 769.3 L585.9 769.1 L580.4 768.8 L574.8 768.4 L569.2 767.8 L563.7 767.1 L558.1 766.4 L552.6 765.5 L547.0 764.4 L541.5 763.3 L536.0 762.1 L530.6 760.8 L525.1 759.4 L519.7 758.0 L514.3 756.4 L509.0 754.8 L503.6 753.1 L498.4 751.3 L493.1 749.5 L487.9 747.5 L482.7 745.5 L477.5 743.4 L472.4 741.2 L467.4 739.0 L462.3 736.6 L457.4 734.2 L452.4 731.7 L447.5 729.1 L442.7 726.4 L437.9 723.7 L433.1 720.9 L428.4 718.0 L423.7 715.1 L419.0 712.1 L414.3 709.2 L409.6 706.2 L404.9 703.3 L400.2 700.4 L395.5 697.5 L390.7 694.6 L385.9 691.8 L381.1 689.1 L376.2 686.5 L371.2 683.9 L366.2 681.5 L361.2 679.2 L356.0 677.0" fill="none" stroke="#000000" stroke-width="5" stroke-linecap="round" stroke-linejoin="round"/>
<path d="M368.8 697.3 L356.0 677.0 L379.9 674.4" fill="none" stroke="#000000" stroke-width="5" stroke-linecap="round" stroke-linejoin="round"/>
<path d="M977.4 505.3 C856.1 772.4 593.3 855.3 343.0 705.0" fill="none" stroke="#000000" stroke-width="5" stroke-linecap="round" stroke-linejoin="round"/>
<path d="M351.5 724.4 L343.0 705.0 L365.0 705.0" fill="none" stroke="#000000" stroke-width="5" stroke-linecap="round" stroke-linejoin="round"/>
<path d="M414.0 515.0 L343.0 641.0" fill="none" stroke="#000000" stroke-width="5" stroke-linecap="round" stroke-linejoin="round"/>
<path d="M364.1 629.5 L343.0 641.0 L341.9 617.0" fill="none" stroke="#000000" stroke-width="5" stroke-linecap="round" stroke-linejoin="round"/>
<path d="M354.0 650.0 L427.0 517.0" fill="none" stroke="#000000" stroke-width="5" stroke-linecap="round" stroke-linejoin="round"/>
<path d="M406.1 528.7 L427.0 517.0 L428.4 541.0" fill="none" stroke="#000000" stroke-width="5" stroke-linecap="round" stroke-linejoin="round"/>
<path d="M378.2 690.8 A37.0 37.0 0 1 1 315.1 719.1" fill="none" stroke="#000000" stroke-width="5" stroke-linecap="round" stroke-linejoin="round"/>
<path d="M309.0 744.6 L315.1 719.1 L335.3 729.8" fill="none" stroke="#000000" stroke-width="5" stroke-linecap="round" stroke-linejoin="round"/>
<path d="M488.9 486.1 A36.0 36.0 0 1 1 456.0 522.0" fill="none" stroke="#000000" stroke-width="5" stroke-linecap="round" stroke-linejoin="round"/>
<path d="M472.0 537.0 L456.0 522.0 L445.0 545.0" fill="none" stroke="#000000" stroke-width="5" stroke-linecap="round" stroke-linejoin="round"/>
<path d="M657.4 482.0 C603.4 504.3 537.9 504.1 484.8 480.0" fill="none" stroke="#000000" stroke-width="5" stroke-linecap="round" stroke-linejoin="round"/>
<path d="M523.0 482.6 L484.8 480.0 L508.8 505.7" fill="none" stroke="#000000" stroke-width="5" stroke-linecap="round" stroke-linejoin="round"/>
<path d="M948.7 486.4 C799.1 571.7 625.6 550.7 468.8 505.7" fill="none" stroke="#000000" stroke-width="5" stroke-linecap="round" stroke-linejoin="round"/>
<path d="M508.8 505.7 L468.8 505.7 L498.0 524.0" fill="none" stroke="#000000" stroke-width="5" stroke-linecap="round" stroke-linejoin="round"/>
<path d="M967.0 318.0 L964.9 321.7 L962.9 325.5 L960.8 329.2 L958.6 333.0 L956.5 336.7 L954.4 340.5 L952.2 344.3 L950.0 348.1 L947.8 351.9 L945.5 355.7 L943.3 359.5 L941.0 363.3 L938.7 367.1 L936.4 370.8 L934.0 374.6 L931.6 378.4 L929.2 382.2 L926.8 385.9 L924.3 389.6 L921.9 393.4 L919.4 397.1 L916.8 400.8 L914.3 404.4 L911.7 408.1 L909.0 411.7 L906.4 415.3 L903.7 418.9 L901.0 422.5 L898.2 426.0 L895.5 429.5 L892.6 433.0 L889.8 436.4 L886.9 439.8 L884.0 443.2 L881.1 446.5 L878.1 449.8 L875.0 453.1 L872.0 456.3 L868.9 459.5 L865.8 462.6 L862.6 465.7 L859.4 468.7 L856.1 471.7 L852.8 474.7 L849.5 477.5 L846.1 480.4 L842.7 483.1 L839.3 485.9 L835.8 488.5 L832.2 491.1 L828.7 493.7 L825.1 496.2 L821.4 498.7 L817.8 501.1 L814.1 503.5 L810.3 505.9 L806.6 508.1 L802.8 510.4 L798.9 512.6 L795.1 514.8 L791.2 517.0 L787.4 519.1 L783.4 521.1 L779.5 523.2 L775.6 525.2 L771.6 527.2 L767.6 529.2 L763.6 531.1 L759.6 533.0 L755.6 534.9 L751.6 536.8 L747.5 538.6 L743.5 540.5 L739.4 542.3 L735.4 544.1 L731.3 545.9 L727.2 547.6 L723.2 549.4 L719.1 551.1 L715.0 552.9 L711.0 554.6 L706.9 556.4 L702.9 558.1 L698.8 559.8 L694.8 561.5 L690.7 563.3 L686.7 565.0 L682.7 566.7 L678.6 568.4 L674.6 570.1 L670.6 571.8 L666.5 573.5 L662.5 575.1 L658.4 576.8 L654.4 578.5 L650.3 580.1 L646.2 581.7 L642.1 583.3 L638.0 584.9 L633.8 586.5 L629.7 588.0 L625.5 589.6 L621.3 591.1 L617.1 592.6 L612.8 594.0 L608.6 595.5 L604.2 596.9 L599.9 598.3 L595.5 599.6 L591.1 601.0 L586.7 602.3 L582.2 603.5 L577.8 604.7 L573.3 605.9 L568.7 607.0 L564.2 608.0 L559.7 608.9 L555.1 609.8 L550.6 610.6 L546.0 611.3 L541.5 611.8 L536.9 612.3 L532.4 612.6 L527.9 612.9 L523.4 613.0 L519.0 612.9 L514.6 612.7 L510.2 612.4 L505.8 611.9 L501.5 611.3 L497.2 610.4 L492.9 609.4 L488.8 608.3 L484.6 606.9 L480.5 605.3 L476.5 603.6 L472.6 601.6 L468.8 599.5 L465.0 597.2 L461.4 594.7 L458.0 592.0 L454.6 589.2 L451.5 586.2 L448.5 583.0 L445.7 579.7 L443.1 576.3 L440.8 572.6 L438.6 568.9 L436.7 565.0 L435.1 561.0 L433.7 556.9 L432.6 552.6 L431.8 548.2 L431.3 543.7 L431.2 539.1 L431.3 534.4 L431.9 529.5 L432.7 524.6 L434.0 519.6" fill="none" stroke="#000000" stroke-width="5" stroke-linecap="round" stroke-linejoin="round"/>
<path d="M419.1 538.4 L434.0 519.6 L444.4 541.2" fill="none" stroke="#000000" stroke-width="5" stroke-linecap="round" stroke-linejoin="round"/>
<path d="M1228.0 116.6 L1222.6 117.0 L1217.2 117.5 L1211.9 118.1 L1206.6 118.8 L1201.3 119.6 L1196.1 120.5 L1190.9 121.5 L1185.8 122.6 L1180.6 123.7 L1175.5 125.0 L1170.5 126.3 L1165.5 127.7 L1160.5 129.2 L1155.5 130.8 L1150.6 132.4 L1145.7 134.1 L1140.8 135.9 L1136.0 137.8 L1131.2 139.7 L1126.4 141.7 L1121.6 143.7 L1116.9 145.8 L1112.1 147.9 L1107.4 150.2 L1102.8 152.4 L1098.1 154.7 L1093.5 157.1 L1088.9 159.5 L1084.3 162.0 L1079.7 164.5 L1075.1 167.0 L1070.6 169.6 L1066.1 172.2 L1061.6 174.8 L1057.1 177.5 L1052.6 180.2 L1048.1 183.0 L1043.7 185.7 L1039.2 188.5 L1034.8 191.3 L1030.3 194.1 L1025.9 197.0 L1021.5 199.8 L1017.1 202.7 L1012.7 205.6 L1008.3 208.5 L1003.9 211.4 L999.5 214.3 L995.2 217.2 L990.8 220.1 L986.4 223.0 L982.1 225.9 L977.7 228.8 L973.3 231.7 L968.9 234.6 L964.6 237.5 L960.2 240.4 L955.8 243.3 L951.5 246.2 L947.1 249.1 L942.7 252.0 L938.4 254.8 L934.0 257.7 L929.6 260.6 L925.2 263.4 L920.8 266.3 L916.4 269.1 L912.0 271.9 L907.6 274.7 L903.2 277.5 L898.8 280.3 L894.4 283.1 L889.9 285.9 L885.5 288.6 L881.1 291.4 L876.6 294.1 L872.1 296.8 L867.7 299.5 L863.2 302.2 L858.7 304.8 L854.2 307.5 L849.7 310.1 L845.2 312.8 L840.6 315.4 L836.1 318.0 L831.6 320.6 L827.0 323.2 L822.5 325.8 L818.0 328.4 L813.4 330.9 L808.8 333.5 L804.3 336.1 L799.7 338.6 L795.1 341.2 L790.6 343.7 L786.0 346.3 L781.4 348.8 L776.8 351.3 L772.2 353.9 L767.7 356.4 L763.1 359.0 L758.5 361.5 L753.9 364.0 L749.3 366.6 L744.7 369.1 L740.1 371.7 L735.5 374.2 L730.9 376.8 L726.3 379.3 L721.7 381.9 L717.1 384.4 L712.5 387.0 L707.9 389.5 L703.3 392.0 L698.7 394.5 L694.1 397.0 L689.5 399.5 L684.8 402.0 L680.2 404.4 L675.5 406.9 L670.9 409.3 L666.2 411.6 L661.5 414.0 L656.9 416.3 L652.2 418.6 L647.5 420.9 L642.7 423.1 L638.0 425.3 L633.3 427.5 L628.5 429.6 L623.7 431.7 L619.0 433.7 L614.2 435.7 L609.3 437.6 L604.5 439.5 L599.7 441.4 L594.8 443.2 L589.9 444.9 L585.0 446.6 L580.1 448.2 L575.1 449.8 L570.2 451.3 L565.2 452.7 L560.2 454.1 L555.1 455.4 L550.1 456.6 L545.0 457.8 L539.9 458.9 L534.8 459.9 L529.6 460.9 L524.4 461.7 L519.2 462.5 L514.0 463.2 L508.7 463.8 L503.5 464.4 L498.1 464.8 L492.8 465.2 L487.4 465.4 L482.0 465.6" fill="none" stroke="#000000" stroke-width="5" stroke-linecap="round" stroke-linejoin="round"/>
<path d="M520.0 451.0 L482.0 465.6 L512.0 478.0" fill="none" stroke="#000000" stroke-width="5" stroke-linecap="round" stroke-linejoin="round"/>
<path d="M1239.0 129.5 L1239.2 133.8 L1239.3 138.0 L1239.2 142.2 L1239.0 146.4 L1238.7 150.5 L1238.3 154.6 L1237.8 158.6 L1237.2 162.7 L1236.4 166.7 L1235.6 170.6 L1234.6 174.5 L1233.6 178.4 L1232.4 182.3 L1231.2 186.1 L1229.9 189.9 L1228.5 193.6 L1227.0 197.3 L1225.4 201.0 L1223.7 204.7 L1222.0 208.3 L1220.1 211.9 L1218.2 215.4 L1216.3 218.9 L1214.2 222.4 L1212.1 225.9 L1210.0 229.3 L1207.8 232.7 L1205.5 236.1 L1203.2 239.4 L1200.8 242.7 L1198.4 246.0 L1195.9 249.2 L1193.4 252.4 L1190.8 255.6 L1188.2 258.8 L1185.6 261.9 L1182.9 265.0 L1180.2 268.1 L1177.5 271.1 L1174.7 274.1 L1171.9 277.1 L1169.1 280.1 L1166.2 283.0 L1163.3 285.9 L1160.4 288.8 L1157.5 291.6 L1154.5 294.4 L1151.5 297.2 L1148.4 300.0 L1145.4 302.7 L1142.3 305.4 L1139.2 308.1 L1136.0 310.7 L1132.9 313.3 L1129.7 315.9 L1126.5 318.5 L1123.2 321.0 L1120.0 323.5 L1116.7 326.0 L1113.4 328.4 L1110.1 330.9 L1106.7 333.3 L1103.3 335.6 L1099.9 338.0 L1096.5 340.3 L1093.1 342.6 L1089.7 344.8 L1086.2 347.0 L1082.7 349.2 L1079.2 351.4 L1075.7 353.6 L1072.1 355.7 L1068.6 357.8 L1065.0 359.8 L1061.4 361.9 L1057.8 363.9 L1054.2 365.9 L1050.6 367.8 L1046.9 369.8 L1043.3 371.7 L1039.6 373.5 L1035.9 375.4 L1032.2 377.2 L1028.5 379.0 L1024.8 380.8 L1021.1 382.5 L1017.4 384.2 L1013.6 385.9 L1009.9 387.6 L1006.1 389.2 L1002.4 390.8 L998.6 392.4 L994.8 394.0 L991.0 395.5 L987.2 397.0 L983.4 398.5 L979.6 400.0 L975.8 401.4 L972.0 402.8 L968.2 404.2 L964.3 405.6 L960.5 406.9 L956.7 408.2 L952.8 409.5 L949.0 410.8 L945.1 412.0 L941.2 413.3 L937.4 414.5 L933.5 415.7 L929.6 416.8 L925.7 418.0 L921.8 419.1 L917.9 420.2 L914.0 421.3 L910.1 422.3 L906.2 423.4 L902.3 424.4 L898.3 425.4 L894.4 426.4 L890.5 427.4 L886.5 428.4 L882.6 429.3 L878.6 430.2 L874.7 431.2 L870.7 432.0 L866.8 432.9 L862.8 433.8 L858.8 434.6 L854.9 435.5 L850.9 436.3 L846.9 437.1 L842.9 437.9 L838.9 438.7 L834.9 439.5 L830.9 440.2 L826.9 441.0 L822.9 441.7 L818.9 442.4 L814.9 443.1 L810.9 443.8 L806.9 444.5 L802.8 445.2 L798.8 445.9 L794.8 446.5 L790.7 447.2 L786.7 447.8 L782.7 448.4 L778.6 449.1 L774.6 449.7 L770.5 450.3 L766.5 450.9 L762.4 451.5 L758.4 452.1 L754.3 452.7 L750.3 453.2 L746.2 453.8 L742.1 454.4 L738.1 454.9 L734.0 455.5" fill="none" stroke="#000000" stroke-width="5" stroke-linecap="round" stroke-linejoin="round"/>
<path d="M760.8 442.0 L734.0 455.5 L769.6 464.3" fill="none" stroke="#000000" stroke-width="5" stroke-linecap="round" stroke-linejoin="round"/>
<path d="M960.5 317.8 C878.9 356.4 799.8 395.4 723.4 434.9" fill="none" stroke="#000000" stroke-width="5" stroke-linecap="round" stroke-linejoin="round"/>
<path d="M747.3 436.9 L723.4 434.9 L735.6 414.3" fill="none" stroke="#000000" stroke-width="5" stroke-linecap="round" stroke-linejoin="round"/>
<path d="M984.3 430.0 C1079.4 379.1 1054.0 207.7 991.0 139.4" fill="none" stroke="#000000" stroke-width="5" stroke-linecap="round" stroke-linejoin="round"/>
<path d="M999.4 169.5 L991.0 139.4 L1023.0 156.6" fill="none" stroke="#000000" stroke-width="5" stroke-linecap="round" stroke-linejoin="round"/>
</svg></body></html>
